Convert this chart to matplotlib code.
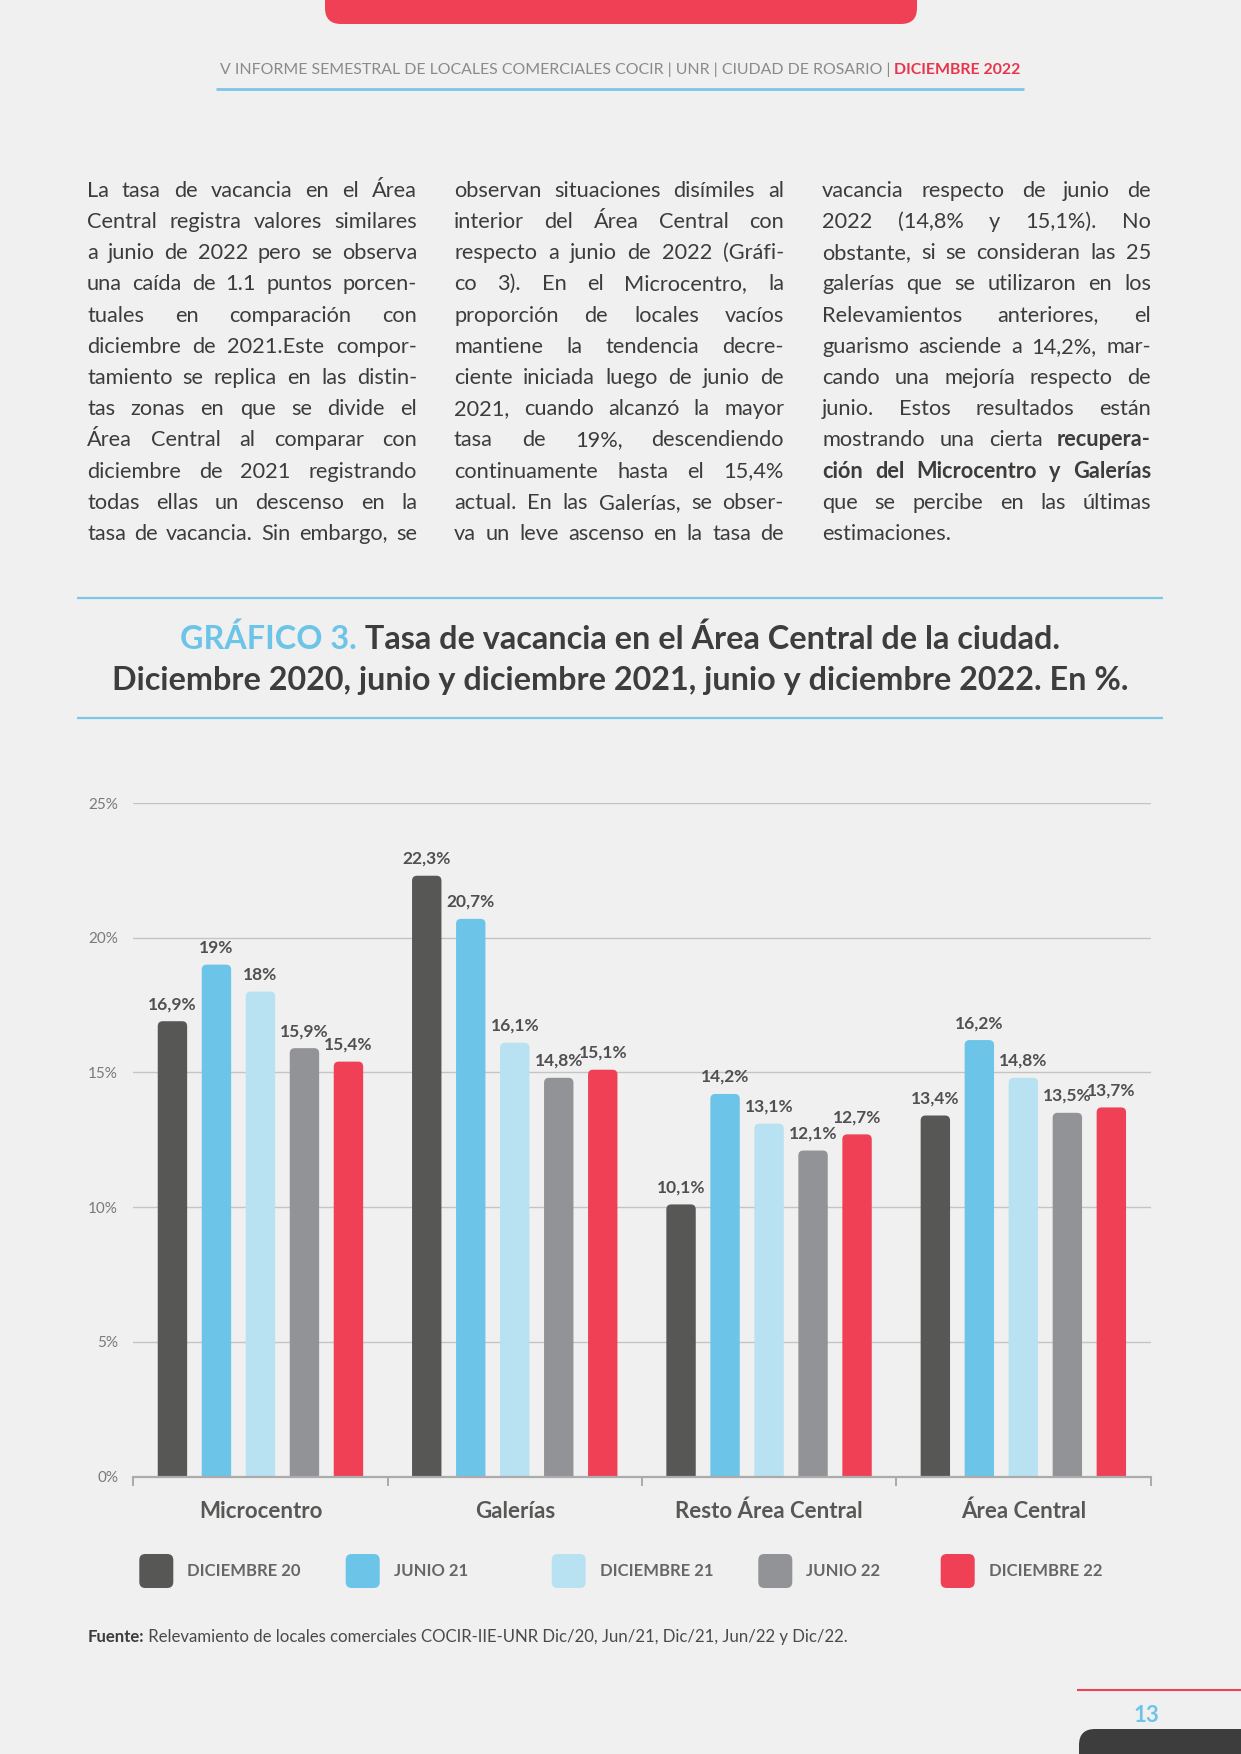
import matplotlib
matplotlib.use('Agg')
import matplotlib.pyplot as plt
from matplotlib.patches import FancyBboxPatch
from matplotlib.lines import Line2D
from matplotlib.transforms import IdentityTransform, blended_transform_factory
import numpy as np

W, H = 1241, 1754
FONT = 'Lato'

# ---------------- data ----------------
categories = ['Microcentro', 'Galerías', 'Resto Área Central', 'Área Central']
series_names = ['DICIEMBRE 20', 'JUNIO 21', 'DICIEMBRE 21', 'JUNIO 22', 'DICIEMBRE 22']
dic20 = [16.9, 22.3, 10.1, 13.4]
jun21 = [19.0, 20.7, 14.2, 16.2]
dic21 = [18.0, 16.1, 13.1, 14.8]
jun22 = [15.9, 14.8, 12.1, 13.5]
dic22 = [15.4, 15.1, 12.7, 13.7]
yticks = [0, 5, 10, 15, 20, 25]
ytick_labels = ['0%', '5%', '10%', '15%', '20%', '25%']
colors = ['#575756', '#6cc4e8', '#b8e1f2', '#929396', '#ef4056']

header_text = 'V INFORME SEMESTRAL DE LOCALES COMERCIALES COCIR | UNR | CIUDAD DE ROSARIO | '
header_bold = 'DICIEMBRE 2022'
title_blue = 'GRÁFICO 3.'
title_l1 = ' Tasa de vacancia en el Área Central de la ciudad.'
title_l2 = 'Diciembre 2020, junio y diciembre 2021, junio y diciembre 2022. En %.'
source_bold = 'Fuente:'
source_text = ' Relevamiento de locales comerciales COCIR-IIE-UNR Dic/20, Jun/21, Dic/21, Jun/22 y Dic/22.'
page_number = '13'

col1 = [
    'La tasa de vacancia en el Área',
    'Central registra valores similares',
    'a junio de 2022 pero se observa',
    'una caída de 1.1 puntos porcen-',
    'tuales en comparación con',
    'diciembre de 2021.Este compor-',
    'tamiento se replica en las distin-',
    'tas zonas en que se divide el',
    'Área Central al comparar con',
    'diciembre de 2021 registrando',
    'todas ellas un descenso en la',
    'tasa de vacancia. Sin embargo, se',
]
col2 = [
    'observan situaciones disímiles al',
    'interior del Área Central con',
    'respecto a junio de 2022 (Gráfi-',
    'co 3). En el Microcentro, la',
    'proporción de locales vacíos',
    'mantiene la tendencia decre-',
    'ciente iniciada luego de junio de',
    '2021, cuando alcanzó la mayor',
    'tasa de 19%, descendiendo',
    'continuamente hasta el 15,4%',
    'actual. En las Galerías, se obser-',
    'va un leve ascenso en la tasa de',
]
col3 = [
    'vacancia respecto de junio de',
    '2022 (14,8% y 15,1%). No',
    'obstante, si se consideran las 25',
    'galerías que se utilizaron en los',
    'Relevamientos anteriores, el',
    'guarismo asciende a 14,2%, mar-',
    'cando una mejoría respecto de',
    'junio. Estos resultados están',
    'mostrando una cierta *recupera-',
    '*ción *del *Microcentro *y *Galerías',
    'que se percibe en las últimas',
    'estimaciones.',
]

# ---------------- figure ----------------
BG = '#f0f0f0'
DARK = '#3c3c3b'
LBL = '#575756'
BLUE_LINE = '#7cc6e6'

fig = plt.figure(figsize=(W / 100, H / 100), dpi=100, facecolor=BG)
renderer = fig.canvas.get_renderer()


def fx(x):
    return x / W


def fy(y):
    return 1 - y / H


def txt(x, y, s, **kw):
    kw.setdefault('family', FONT)
    kw.setdefault('va', 'baseline')
    return fig.text(fx(x), fy(y), s, **kw)


def width_px(t):
    return t.get_window_extent(renderer).width


def hline(x0, x1, y, color, lw):
    fig.add_artist(Line2D([fx(x0), fx(x1)], [fy(y), fy(y)], color=color, lw=lw,
                          transform=fig.transFigure, solid_capstyle='butt'))


def centered_pair(cx, y, s1, kw1, s2, kw2):
    t1 = txt(0, y, s1, ha='left', **kw1)
    t2 = txt(0, y, s2, ha='left', **kw2)
    w1, w2 = width_px(t1), width_px(t2)
    x0 = cx - (w1 + w2) / 2
    t1.set_x(fx(x0))
    t2.set_x(fx(x0 + w1))


# top red banner
fig.add_artist(FancyBboxPatch((325, H - 24), 592, 60,
                              boxstyle='round,pad=0,rounding_size=16',
                              fc='#ef4056', ec='none', transform=IdentityTransform()))

# header
centered_pair(620, 74, header_text, dict(fontsize=11.4, fontweight='normal', color='#8a8a8a'),
              header_bold, dict(fontsize=11.4, fontweight='bold', color='#e6354d'))
hline(216, 1024, 88.5, BLUE_LINE, 2.0)

# body text (justified columns)
BODY_SIZE = 15.7
cols_x = [(87, 417), (454, 784), (822, 1151)]
space_w = 0.2 * BODY_SIZE * 100 / 72
for ci, lines in enumerate([col1, col2, col3]):
    x0, x1 = cols_x[ci]
    for li, line in enumerate(lines):
        y = 196.7 + 31.2 * li
        words = line.split(' ')
        texts = []
        for w in words:
            bold = w.startswith('*')
            w = w.lstrip('*')
            texts.append(txt(0, y, w, ha='left', fontsize=BODY_SIZE,
                             fontweight='bold' if bold else 'normal', color=DARK))
        widths = [width_px(t) for t in texts]
        justify = not (ci == 2 and li == len(lines) - 1)
        if justify and len(texts) > 1:
            gap = (x1 - x0 - sum(widths)) / (len(texts) - 1)
        else:
            gap = space_w
        x = x0
        for t, wd in zip(texts, widths):
            t.set_x(fx(x))
            x += wd + gap

# chart title
hline(77, 1163, 598, BLUE_LINE, 1.6)
hline(77, 1163, 718, BLUE_LINE, 1.6)
centered_pair(620, 649, title_blue, dict(fontsize=23.3, fontweight='bold', color='#6cc4e8'),
              title_l1, dict(fontsize=23.3, fontweight='bold', color='#3d3d3d'))
txt(620, 690, title_l2, ha='center', fontsize=23.3, fontweight='bold', color='#3d3d3d')

# ---------------- axes ----------------
ax_left, ax_right = 133.3, 1150.5
ax_top, ax_bottom = 803.0, 1476.5
ax = fig.add_axes([fx(ax_left), fy(ax_bottom), fx(ax_right - ax_left), (ax_bottom - ax_top) / H])
ax.set_facecolor('none')
ax.set_xlim(-0.5, len(categories) - 0.5)
ax.set_ylim(0, 25)

series = [dic20, jun21, dic21, jun22, dic22]
pitch = 44 / 254.3
bw = 29.4 / 254.3
xs = np.arange(len(categories))
px_per_x = (ax_right - ax_left) / (len(categories))
px_per_y = (ax_bottom - ax_top) / 25
r_x = 5.0 / px_per_x
asp = px_per_x / px_per_y

for si, (vals, col, name) in enumerate(zip(series, colors, series_names)):
    offs = (si - 2) * pitch
    bars = ax.bar(xs + offs, vals, width=bw, color=col, label=name, zorder=2)
    for rect in bars:
        rect.set_visible(False)
        fb = FancyBboxPatch((rect.get_x(), -1), rect.get_width(), rect.get_height() + 1,
                            boxstyle=f'round,pad=0,rounding_size={r_x}',
                            mutation_aspect=asp, fc=col, ec='none', zorder=2)
        ax.add_patch(fb)
    labels = [(f'{v:g}'.replace('.', ',') + '%') for v in vals]
    ax.bar_label(bars, labels=labels, padding=6.5, fontsize=12.5, fontweight='bold',
                 color='#505050', family=FONT)

ax.set_yticks(yticks)
ax.set_yticklabels(ytick_labels, family=FONT, fontweight='normal', fontsize=11, color='#7a7a7a')
ax.tick_params(axis='y', length=0, pad=11)
ax.yaxis.grid(True, color='#c4c4c4', lw=1.0, zorder=0)
ax.set_axisbelow(True)
for s in ['left', 'right', 'top']:
    ax.spines[s].set_visible(False)
ax.spines['bottom'].set_color('#ababab')
ax.spines['bottom'].set_linewidth(1.6)
ax.spines['bottom'].set_zorder(3)

ax.set_xticks(np.arange(len(categories) + 1) - 0.5)
ax.set_xticklabels([])
ax.tick_params(axis='x', length=6.5, width=1.4, color='#ababab', direction='out')

lab_tr = blended_transform_factory(ax.transData, fig.transFigure)
for i, c in enumerate(categories):
    ax.text(i, fy(1518), c, transform=lab_tr, ha='center', va='baseline',
            fontsize=16, fontweight='bold', color=LBL, family=FONT)

# legend
leg_x = [139.3, 345.7, 551.7, 758.3, 940.7]
for lx, col, name in zip(leg_x, colors, series_names):
    fig.add_artist(FancyBboxPatch((lx, H - 1588), 34, 34,
                                  boxstyle='round,pad=0,rounding_size=6',
                                  fc=col, ec='none', transform=IdentityTransform()))
    txt(lx + 48, 1576, name, ha='left', fontsize=12, fontweight='bold', color='#666666')

# source
t1 = txt(88, 1641.7, source_bold, ha='left', fontsize=12.1, fontweight='bold', color=DARK)
txt(88 + width_px(t1), 1641.7, source_text, ha='left', fontsize=12.1, fontweight='normal', color='#4a4a4a')

# footer
hline(1077, 1241, 1690, '#ef4056', 1.5)
txt(1146, 1721.5, page_number, ha='center', fontsize=16, fontweight='bold', color='#6cc4e8')
fig.add_artist(FancyBboxPatch((1079, -40), 250, 65,
                              boxstyle='round,pad=0,rounding_size=16',
                              fc='#3d3d3d', ec='none', transform=IdentityTransform()))

fig.savefig('out.png', dpi=100, facecolor=BG)
